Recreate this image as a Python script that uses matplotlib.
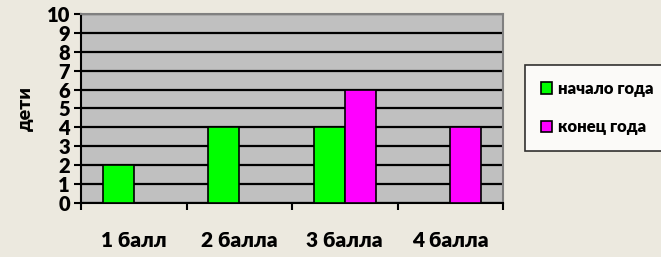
import matplotlib.pyplot as plt
import numpy as np

categories = ["1 балл", "2 балла", "3 балла", "4 балла"]
start_year = [2, 4, 4, 0]
end_year = [0, 0, 6, 4]
series_names = ["начало года", "конец года"]

plt.rcParams['font.family'] = ['Lato', 'DejaVu Sans']
plt.rcParams['font.weight'] = 'heavy'

fig = plt.figure(figsize=(6.61, 2.57), dpi=100)
fig.patch.set_facecolor('#ECE9DF')
ax = fig.add_axes([81/661, 54/257, 422/661, 189/257])
ax.set_facecolor('#C0C0C0')

x = np.arange(len(categories))
w = 0.295
ax.bar(x - w/2, start_year, w, color='#00FF00', edgecolor='black', linewidth=1.2,
       label=series_names[0], zorder=3)
ax.bar(x + w/2, end_year, w, color='#FF00FF', edgecolor='black', linewidth=1.2,
       label=series_names[1], zorder=3)

ax.set_xlim(-0.5, 3.5)
ax.set_ylim(0, 10)
ax.set_yticks(range(0, 11))
ax.yaxis.grid(True, color='black', linewidth=1.6, zorder=1)
ax.set_axisbelow(True)

ax.set_xticks(x)
ax.set_xticklabels(categories, fontsize=15, fontweight='heavy')
ax.set_xticks(np.arange(-0.5, 4, 1), minor=True)
ax.tick_params(axis='x', which='major', length=0, pad=20)
ax.tick_params(axis='x', which='minor', length=5, width=1.5, direction='out')
ax.tick_params(axis='y', length=5, width=1.5, pad=3, labelsize=14.5)
for lbl in ax.get_yticklabels():
    lbl.set_fontweight('heavy')

for s in ['top', 'right']:
    ax.spines[s].set_color('#808080')
    ax.spines[s].set_linewidth(1.5)
for s in ['left', 'bottom']:
    ax.spines[s].set_color('black')
    ax.spines[s].set_linewidth(1.5)

ax.set_ylabel("дети", fontsize=14, fontweight='heavy', labelpad=9)

leg = fig.legend(loc='upper left', bbox_to_anchor=(525/661, 1 - 65/257),
                 borderaxespad=0, frameon=True,
                 prop={'size': 12, 'weight': 'heavy'},
                 handlelength=0.65, handleheight=0.65, handletextpad=0.4,
                 labelspacing=1.35, borderpad=0.95,
                 fancybox=False, edgecolor='black')
leg.get_frame().set_linewidth(1.2)
leg.get_frame().set_facecolor('white')

fig.savefig("out.png", dpi=100, facecolor=fig.get_facecolor())
